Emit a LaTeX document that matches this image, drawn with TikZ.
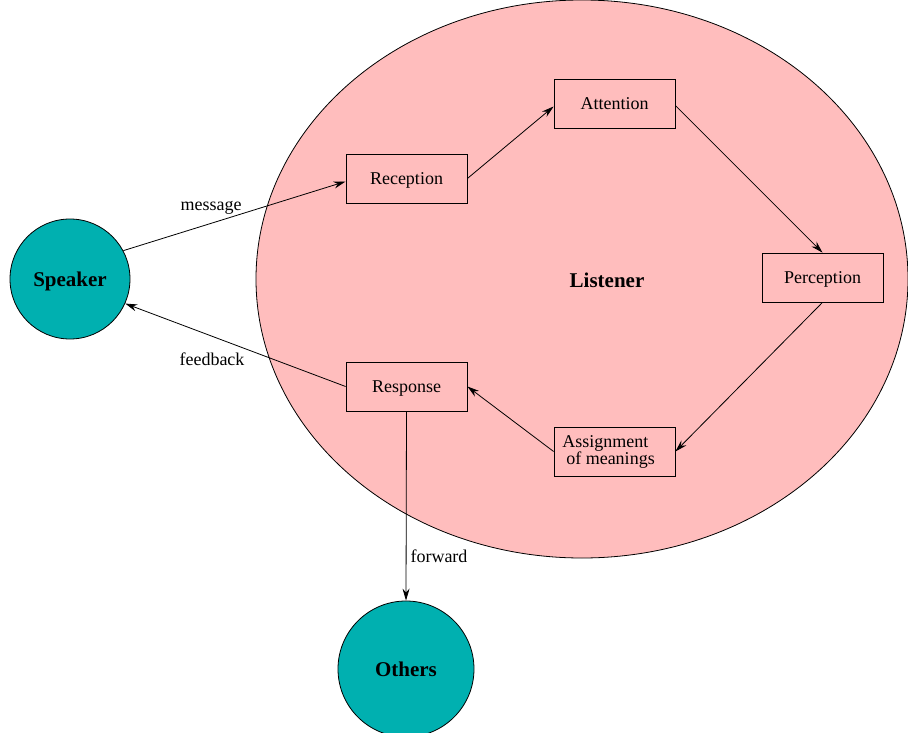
\documentclass[tikz,border=0pt]{standalone}
\usepackage{fontspec}
\setmainfont{Liberation Serif}
\usetikzlibrary{arrows.meta,calc,shapes.geometric}
\definecolor{listenerpink}{RGB}{255,189,189}
\definecolor{personteal}{RGB}{0,176,176}
\begin{document}
\begin{tikzpicture}[x=1pt,y=-1pt,
  stagebox/.style={draw,line width=0.8pt,minimum width=121pt,minimum height=49pt,inner sep=2pt,
    text height=12pt,text depth=0pt,font=\fontsize{18}{18}\selectfont},
  person/.style={circle,draw,line width=0.8pt,fill=personteal,inner sep=0pt,
    text height=14.5pt,text depth=0pt,font=\fontsize{21}{21}\selectfont\bfseries},
  flow/.style={line width=0.8pt,-{Stealth[length=12pt,width=7pt]}},
  lbl/.style={font=\fontsize{18}{18}\selectfont,inner sep=0pt,anchor=base}]
\useasboundingbox (0,0) rectangle (908,733);
\node[ellipse,draw,line width=0.8pt,fill=listenerpink,minimum width=652pt,minimum height=558pt,inner sep=0pt] (area) at (582,279) {};
\node[lbl,font=\fontsize{21}{21}\selectfont\bfseries] (listener) at (607,287) {Listener};
\node[person,minimum size=120pt] (speaker) at (70,279) {Speaker};
\node[person,minimum size=136pt] (others) at (406,669) {Others};
\node[stagebox] (reception) at (406.5,178.5) {Reception};
\node[stagebox] (attention) at (614.5,103.5) {Attention};
\node[stagebox] (perception) at (822.5,277.5) {Perception};
\node[stagebox] (response) at (406.5,386.5) {Response};
\node[draw,line width=0.8pt,minimum width=121pt,minimum height=49pt,inner sep=2pt,
  align=left,font=\fontsize{18}{17}\selectfont] (assign) at (614.5,451.5)
  {Assignment\\\hspace*{4pt}of meanings\hspace*{12pt}};
\draw[flow] (speaker.28) -- ($(reception.west)+(0,3)$);
\draw[flow] (response.west) -- (speaker.-24);
\draw[flow] (reception.east) -- ($(attention.west)+(0,3)$);
\draw[flow] ($(attention.east)+(0,2)$) -- (perception.north);
\draw[flow] (perception.south) -- (assign.east);
\draw[flow] (assign.west) -- (response.east);
\draw[flow] (response.south) -- (others.north);
\node[lbl] (msg) at (211,210) {message};
\node[lbl] (fb) at (212,365) {feedback};
\node[lbl] (fwd) at (439,562.5) {forward};
\end{tikzpicture}
\end{document}
